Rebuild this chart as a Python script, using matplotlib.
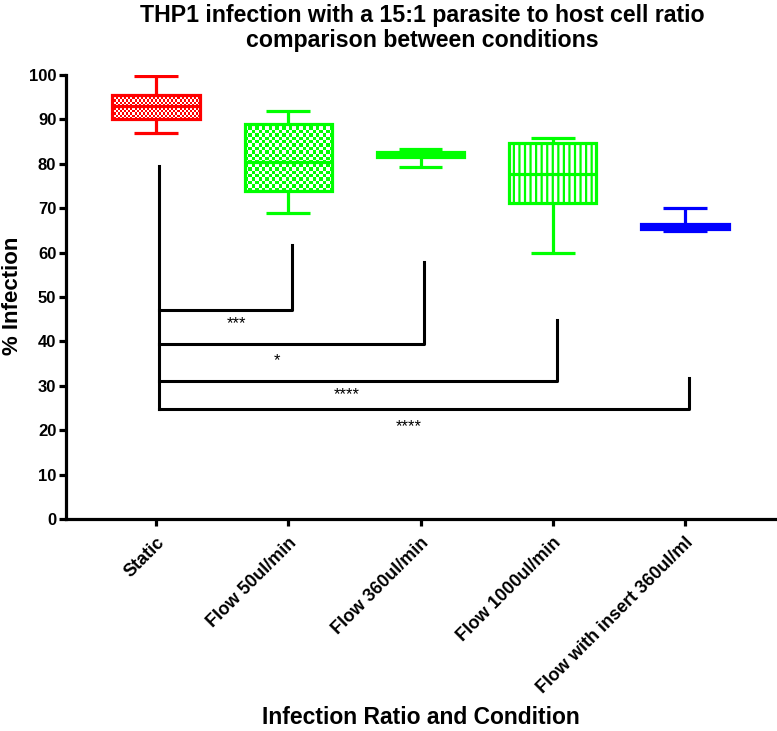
import numpy as np
import matplotlib
matplotlib.use('Agg')
import matplotlib.pyplot as plt
from matplotlib import font_manager
from matplotlib.colors import ListedColormap

# data
conditions = ['Static', 'Flow 50ul/min', 'Flow 360ul/min', 'Flow 1000ul/min',
              'Flow with insert 360ul/ml']
minimum = [87.0, 68.9, 79.3, 60.0, 64.8]
q1 = [90.2, 73.8, 81.5, 71.2, 65.3]
median = [93.0, 80.3, 82.1, 77.8, 66.0]
q3 = [95.5, 88.9, 82.7, 84.7, 66.5]
maximum = [99.8, 92.0, 83.4, 85.9, 70.0]

# significance brackets: Static vs each flow condition
bracket_to = [1, 2, 3, 4]
bracket_bar = [47.1, 39.5, 31.0, 24.8]
bracket_top = [61.8, 57.9, 44.9, 31.7]
bracket_start_top = 79.5
stars = ['***', '*', '****', '****']
star_x = [0.61, 0.915, 1.44, 1.91]
star_y = [44.0, 35.7, 27.9, 20.7]

colors = ['#ff0000', '#00ff00', '#00ff00', '#00ff00', '#0000ff']

# fonts
names = {f.name for f in font_manager.fontManager.ttflist}
narrow = 'Liberation Sans Narrow' if 'Liberation Sans Narrow' in names else 'Liberation Sans'
plt.rcParams['font.family'] = ['Liberation Sans', 'DejaVu Sans']
plt.rcParams['hatch.linewidth'] = 1.6

fig = plt.figure(figsize=(7.77, 7.31), dpi=100)
ax = fig.add_axes([66/777, 1-519/731, (775-66)/777, (519-75)/731])

stats = []
for i in range(len(conditions)):
    stats.append({'med': median[i], 'q1': q1[i], 'q3': q3[i],
                  'whislo': minimum[i], 'whishi': maximum[i], 'label': conditions[i]})

pos = np.arange(len(conditions))
bp = ax.bxp(stats, positions=pos, widths=0.66, patch_artist=True, showfliers=False)
lw = 2.3
for i, c in enumerate(colors):
    bp['boxes'][i].set(facecolor='none', edgecolor=c, linewidth=lw, zorder=3)
    bp['medians'][i].set(color=c, linewidth=lw, zorder=4)
    for ln in bp['whiskers'][2*i:2*i+2] + bp['caps'][2*i:2*i+2]:
        ln.set(color=c, linewidth=lw, solid_capstyle='butt')

ax.set_xlim(-0.68, 4.68)
ax.set_ylim(0, 100)

# fills: checkerboard for Static / Flow 50, vertical lines for Flow 1000,
# solid for the two narrow boxes
bp['boxes'][2].set_facecolor(colors[2])
bp['boxes'][4].set_facecolor(colors[4])
bp['boxes'][3].set(facecolor='white', hatch='|||')


def checker(i, cell_px):
    box = bp['boxes'][i]
    x0, x1 = pos[i] - 0.33, pos[i] + 0.33
    p0 = ax.transData.transform((x0, q1[i]))
    p1 = ax.transData.transform((x1, q3[i]))
    ncol = max(int(abs(p1[0] - p0[0]) / cell_px), 1)
    nrow = max(int(abs(p1[1] - p0[1]) / cell_px), 1)
    grid = np.indices((nrow, ncol)).sum(axis=0) % 2
    im = ax.imshow(grid, extent=(x0, x1, q1[i], q3[i]), aspect='auto',
                   interpolation='nearest', origin='lower',
                   cmap=ListedColormap(['white', colors[i]]), zorder=2)
    im.set_clip_path(box)


checker(0, 2.0)
checker(1, 3.3)
ax.set_xlim(-0.68, 4.68)
ax.set_ylim(0, 100)

# brackets
for k in range(len(bracket_to)):
    x_end = pos[bracket_to[k]] + 0.03
    ax.plot([pos[0] + 0.02, x_end, x_end], [bracket_bar[k], bracket_bar[k], bracket_top[k]],
            color='black', linewidth=2.2, solid_capstyle='projecting', zorder=3)
    ax.text(star_x[k], star_y[k], stars[k], ha='center', va='center', fontsize=12)
ax.plot([pos[0] + 0.02, pos[0] + 0.02], [min(bracket_bar), bracket_start_top],
        color='black', linewidth=2.2, solid_capstyle='projecting', zorder=3)

# axes styling
for s in ['top', 'right']:
    ax.spines[s].set_visible(False)
for s in ['left', 'bottom']:
    ax.spines[s].set_linewidth(2.3)
ax.set_yticks(np.arange(0, 101, 10))
ax.set_xticks(pos)
ax.set_xticklabels(conditions, rotation=45, ha='right', rotation_mode='anchor',
                   fontsize=13, fontweight='bold')
ax.tick_params(axis='both', direction='out', length=5, width=2.3, pad=2)
ax.tick_params(axis='x', pad=6)
for t in ax.get_yticklabels():
    t.set_fontsize(12)
    t.set_fontweight('bold')

fig.text(422/777, 1-4/731,
         'THP1 infection with a 15:1 parasite to host cell ratio\ncomparison between conditions',
         ha='center', va='top', fontsize=16.7, fontweight='bold', family=narrow,
         linespacing=1.1)
fig.text(421/777, 1-717/731, 'Infection Ratio and Condition', ha='center', va='center',
         fontsize=16.5, fontweight='bold', family=narrow)
fig.text(13/777, 1-296/731, '% Infection', ha='center', va='center', rotation=90,
         fontsize=16, fontweight='bold')

fig.savefig('out.png', dpi=100)
